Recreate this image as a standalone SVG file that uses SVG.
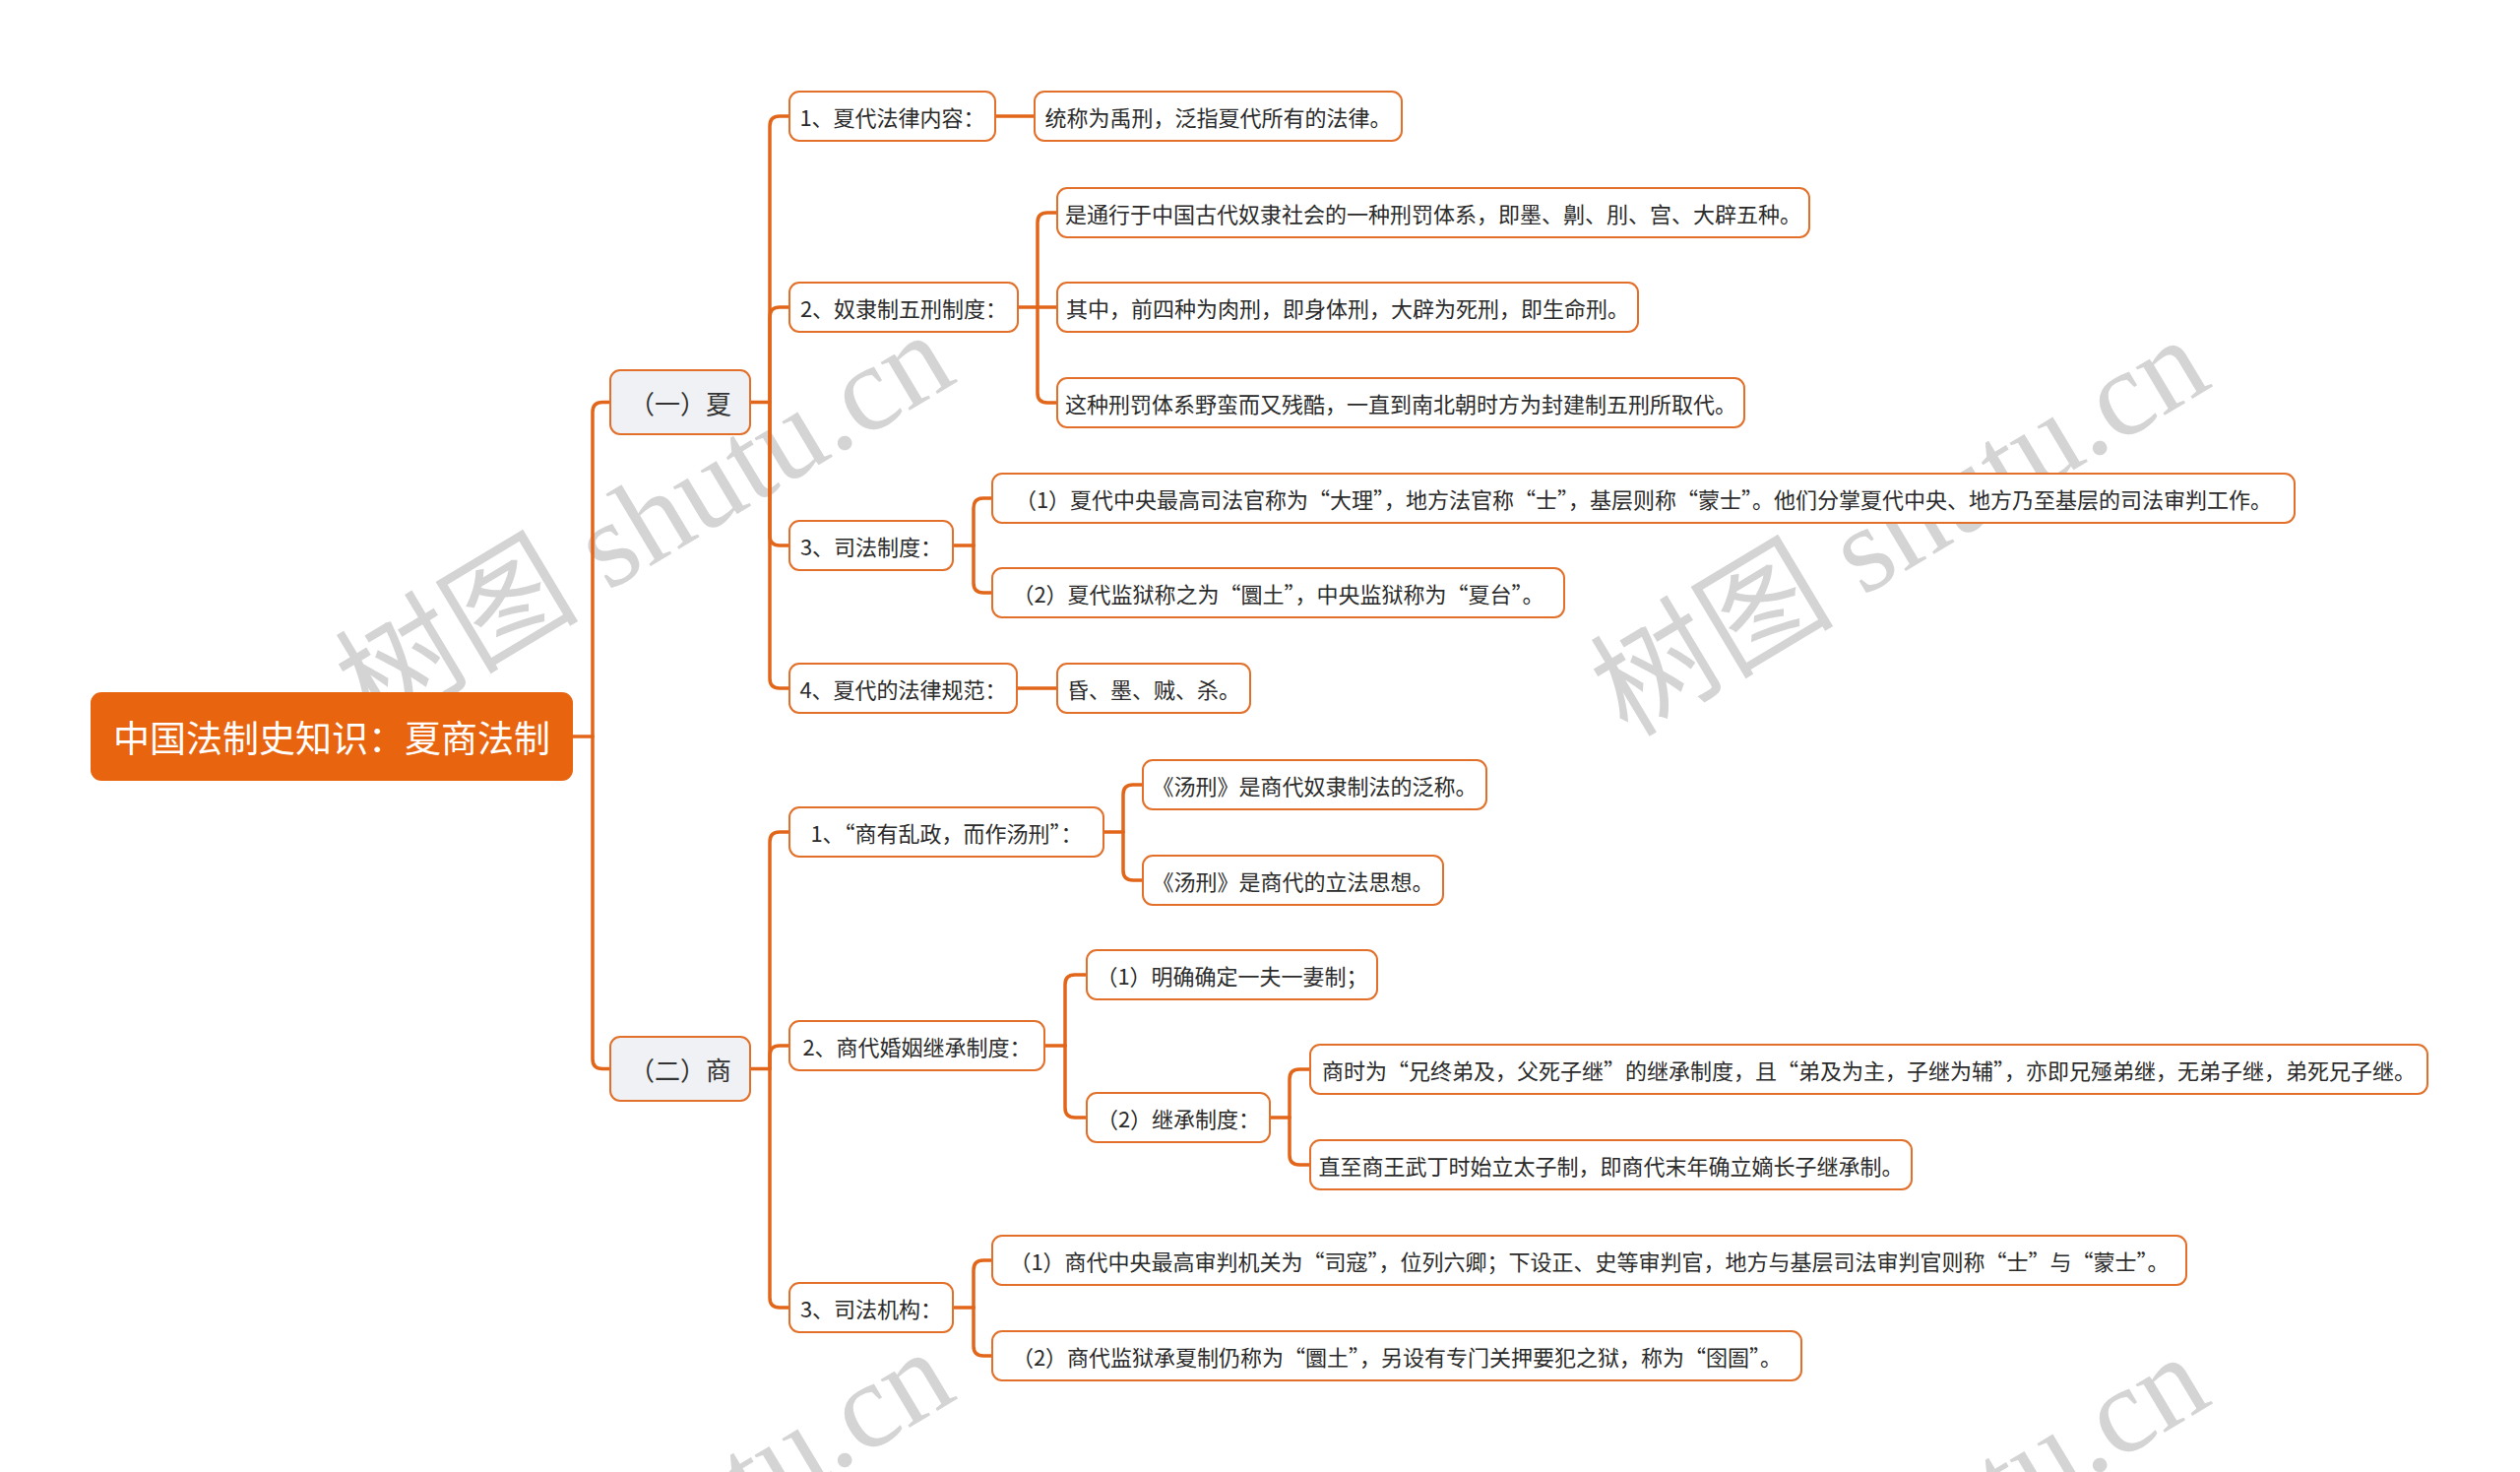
<svg xmlns="http://www.w3.org/2000/svg" width="2560" height="1495" viewBox="0 0 2560 1495">
<style>
.bg{fill:#ffffff}
.wm{font-family:"Liberation Serif","Noto Sans CJK SC",serif;font-size:124px;fill:#d4d4d4;text-anchor:middle;dominant-baseline:central}
.conn path{fill:none;stroke:#E2661A;stroke-width:3.5;stroke-linecap:round;stroke-linejoin:round}
.root rect{fill:#E8640F;stroke:#E8640F;stroke-width:2}
.root text{font-family:"Noto Sans CJK SC","Liberation Sans",sans-serif;font-size:37px;fill:#ffffff;text-anchor:middle;dominant-baseline:central}
.l1 rect{fill:#EFF1F4;stroke:#E2702A;stroke-width:2}
.l1 text{font-family:"Noto Sans CJK SC","Liberation Sans",sans-serif;font-size:26px;fill:#333333;text-anchor:middle;dominant-baseline:central}
.n rect{fill:#ffffff;stroke:#E2702A;stroke-width:2}
.n text{font-family:"Noto Sans CJK SC","Liberation Sans",sans-serif;font-size:22px;fill:#2b2b2b;text-anchor:middle;dominant-baseline:central}
</style>
<rect class="bg" x="0" y="0" width="2560" height="1495"/>
<g id="watermarks">
<text class="wm" x="655" y="530" transform="rotate(-31 655 530)">树图 shutu.cn</text>
<text class="wm" x="1930" y="535" transform="rotate(-31 1930 535)">树图 shutu.cn</text>
<text class="wm" x="655" y="1563" transform="rotate(-31 655 1563)">树图 shutu.cn</text>
<text class="wm" x="1930" y="1568" transform="rotate(-31 1930 1568)">树图 shutu.cn</text>
</g>
<g id="connectors" class="conn">
<path d="M581,748 H602"/>
<path d="M602,748 V418.5 Q602,408.5 612,408.5 H620"/>
<path d="M602,748 V1075.5 Q602,1085.5 612,1085.5 H620"/>
<path d="M762,408.5 H782"/>
<path d="M782,408.5 V128 Q782,118 792,118 H802"/>
<path d="M782,408.5 V322 Q782,312 792,312 H802"/>
<path d="M782,408.5 V544 Q782,554 792,554 H802"/>
<path d="M782,408.5 V689 Q782,699 792,699 H802"/>
<path d="M762,1085.5 H782"/>
<path d="M782,1085.5 V855 Q782,845 792,845 H802"/>
<path d="M782,1085.5 V1072 Q782,1062 792,1062 H802"/>
<path d="M782,1085.5 V1318 Q782,1328 792,1328 H802"/>
<path d="M1011,118 H1051"/>
<path d="M1034,312 H1074"/>
<path d="M1054,312 V226 Q1054,216 1064,216 H1074"/>
<path d="M1054,312 V399 Q1054,409 1064,409 H1074"/>
<path d="M968,554 H989"/>
<path d="M989,554 V516 Q989,506 999,506 H1008"/>
<path d="M989,554 V592 Q989,602 999,602 H1008"/>
<path d="M1033,699 H1074"/>
<path d="M1121,845 H1141"/>
<path d="M1141,845 V807 Q1141,797 1151,797 H1161"/>
<path d="M1141,845 V884 Q1141,894 1151,894 H1161"/>
<path d="M1061,1062 H1082"/>
<path d="M1082,1062 V1000 Q1082,990 1092,990 H1104"/>
<path d="M1082,1062 V1125 Q1082,1135 1092,1135 H1104"/>
<path d="M1290,1135 H1310"/>
<path d="M1310,1135 V1096 Q1310,1086 1320,1086 H1331"/>
<path d="M1310,1135 V1173 Q1310,1183 1320,1183 H1331"/>
<path d="M968,1328 H989"/>
<path d="M989,1328 V1290 Q989,1280 999,1280 H1008"/>
<path d="M989,1328 V1367 Q989,1377 999,1377 H1008"/>
</g>
<g id="root" class="root"><rect x="93" y="704" width="488" height="88" rx="10"/><text x="337" y="748">中国法制史知识：夏商法制</text></g>
<g id="xia" class="l1"><rect x="620" y="376" width="142" height="65" rx="10"/><text x="691" y="408.5">（一）夏</text></g>
<g id="shang" class="l1"><rect x="620" y="1053" width="142" height="65" rx="10"/><text x="691" y="1085.5">（二）商</text></g>
<g id="x1" class="n"><rect x="802" y="93" width="209" height="50" rx="10"/><text x="906.5" y="118">1、夏代法律内容：</text></g>
<g id="x1a" class="n"><rect x="1051" y="93" width="373" height="50" rx="10"/><text x="1237.5" y="118">统称为禹刑，泛指夏代所有的法律。</text></g>
<g id="x2" class="n"><rect x="802" y="287" width="232" height="50" rx="10"/><text x="918" y="312">2、奴隶制五刑制度：</text></g>
<g id="x2a" class="n"><rect x="1074" y="191" width="764" height="50" rx="10"/><text x="1456" y="216">是通行于中国古代奴隶社会的一种刑罚体系，即墨、劓、刖、宫、大辟五种。</text></g>
<g id="x2b" class="n"><rect x="1074" y="287" width="590" height="50" rx="10"/><text x="1369" y="312">其中，前四种为肉刑，即身体刑，大辟为死刑，即生命刑。</text></g>
<g id="x2c" class="n"><rect x="1074" y="384" width="698" height="50" rx="10"/><text x="1423" y="409">这种刑罚体系野蛮而又残酷，一直到南北朝时方为封建制五刑所取代。</text></g>
<g id="x3" class="n"><rect x="802" y="529" width="166" height="50" rx="10"/><text x="885" y="554">3、司法制度：</text></g>
<g id="x3a" class="n"><rect x="1008" y="481" width="1323" height="50" rx="10"/><text x="1669.5" y="506">（1）夏代中央最高司法官称为“大理”，地方法官称“士”，基层则称“蒙士”。他们分掌夏代中央、地方乃至基层的司法审判工作。</text></g>
<g id="x3b" class="n"><rect x="1008" y="577" width="581" height="50" rx="10"/><text x="1298.5" y="602">（2）夏代监狱称之为“圜土”，中央监狱称为“夏台”。</text></g>
<g id="x4" class="n"><rect x="802" y="674" width="231" height="50" rx="10"/><text x="917.5" y="699">4、夏代的法律规范：</text></g>
<g id="x4a" class="n"><rect x="1074" y="674" width="196" height="50" rx="10"/><text x="1172" y="699">昏、墨、贼、杀。</text></g>
<g id="s1" class="n"><rect x="802" y="820" width="319" height="50" rx="10"/><text x="961.5" y="845">1、“商有乱政，而作汤刑”：</text></g>
<g id="s1a" class="n"><rect x="1161" y="772" width="349" height="50" rx="10"/><text x="1335.5" y="797">《汤刑》是商代奴隶制法的泛称。</text></g>
<g id="s1b" class="n"><rect x="1161" y="869" width="305" height="50" rx="10"/><text x="1313.5" y="894">《汤刑》是商代的立法思想。</text></g>
<g id="s2" class="n"><rect x="802" y="1037" width="259" height="50" rx="10"/><text x="931.5" y="1062">2、商代婚姻继承制度：</text></g>
<g id="s2a" class="n"><rect x="1104" y="965" width="295" height="50" rx="10"/><text x="1251.5" y="990">（1）明确确定一夫一妻制；</text></g>
<g id="s2b" class="n"><rect x="1104" y="1110" width="186" height="50" rx="10"/><text x="1197" y="1135">（2）继承制度：</text></g>
<g id="s2b1" class="n"><rect x="1331" y="1061" width="1135" height="50" rx="10"/><text x="1898.5" y="1086">商时为“兄终弟及，父死子继”的继承制度，且“弟及为主，子继为辅”，亦即兄殛弟继，无弟子继，弟死兄子继。</text></g>
<g id="s2b2" class="n"><rect x="1331" y="1158" width="611" height="50" rx="10"/><text x="1636.5" y="1183">直至商王武丁时始立太子制，即商代末年确立嫡长子继承制。</text></g>
<g id="s3" class="n"><rect x="802" y="1303" width="166" height="50" rx="10"/><text x="885" y="1328">3、司法机构：</text></g>
<g id="s3a" class="n"><rect x="1008" y="1255" width="1213" height="50" rx="10"/><text x="1614.5" y="1280">（1）商代中央最高审判机关为“司寇”，位列六卿；下设正、史等审判官，地方与基层司法审判官则称“士”与“蒙士”。</text></g>
<g id="s3b" class="n"><rect x="1008" y="1352" width="822" height="50" rx="10"/><text x="1419" y="1377">（2）商代监狱承夏制仍称为“圜土”，另设有专门关押要犯之狱，称为“囹圄”。</text></g>
</svg>
